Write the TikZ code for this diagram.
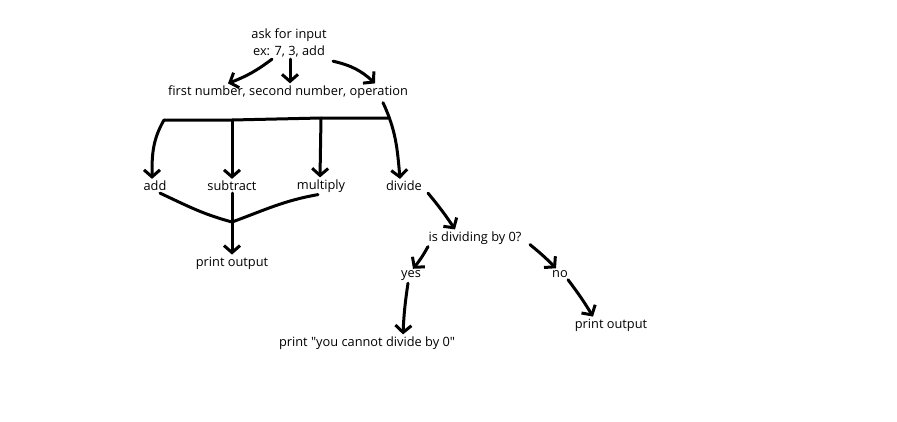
\documentclass[tikz,border=0pt]{standalone}
\usepackage{fontspec}
\newfontfamily\handfont{Open Sans}
\usetikzlibrary{arrows.meta,positioning}

\begin{document}
\begin{tikzpicture}[x=1pt,y=-1pt]
\tikzset{
  stepnode/.style={inner sep=2pt,font=\handfont\fontsize{12.8}{16.5}\selectfont,align=center},
  flow/.style={-{Straight Barb[length=7pt,width=16pt]},line width=3pt,line cap=round,line join=round},
  plain/.style={line width=3pt,line cap=round,line join=round}
}
\fill[white] (0,0) rectangle (897,421);
\useasboundingbox (0,0) rectangle (897,421);
\node[stepnode] (n_ask) at (289,43) {ask for input\\ex: 7, 3, add};
\node[stepnode] (n_first) at (288,92) {first number, second number, operation};
\node[stepnode] (n_add) at (155,186) {add};
\node[stepnode] (n_sub) at (232,186) {subtract};
\node[stepnode] (n_mul) at (321,186) {multiply};
\node[stepnode] (n_div) at (404,186) {divide};
\node[stepnode] (n_out1) at (232,263) {print output};
\node[stepnode] (n_zero) at (475,238) {is dividing by 0?};
\node[stepnode] (n_yes) at (411,276) {yes};
\node[stepnode] (n_no) at (560,274) {no};
\node[stepnode] (n_cannot) at (367,343) {print "you cannot divide by 0"};
\node[stepnode] (n_out2) at (611,325) {print output};
\coordinate (c_busL) at (164,120);
\coordinate (c_busR) at (388,118);
\coordinate (c_busS) at (n_sub |- c_busL);
\coordinate (c_busM) at (n_mul |- c_busR);
\coordinate (c_merge) at (232,222);
\draw[flow] ([xshift=-17pt]n_ask.south) to[bend left=8] ([xshift=-60pt]n_first.north);
\draw[flow] ([xshift=1pt]n_ask.south) -- ([xshift=2pt]n_first.north);
\draw[flow] ([xshift=44pt,yshift=-2pt]n_ask.south) to[bend left=15] ([xshift=87pt]n_first.north);
\draw[plain] (c_busR) -- (c_busM) -- (c_busS) -- (c_busL);
\draw[flow] (c_busL) to[out=240,in=90] ([xshift=-3pt]n_add.north);
\draw[flow] (c_busS) -- (n_sub.north);
\draw[flow] (c_busM) -- ([xshift=-1pt]n_mul.north);
\draw[flow] ([xshift=95pt,yshift=-2pt]n_first.south) to[out=-65,in=95] ([xshift=-4pt]n_div.north);
\draw[plain] ([xshift=5pt]n_add.south) to[out=-25,in=165] (c_merge);
\draw[plain] ([xshift=-3pt]n_mul.south) to[out=190,in=20] (c_merge);
\draw[flow] (n_sub.south) -- (n_out1.north);
\draw[flow] ([xshift=24pt]n_div.south) to[bend left=3] ([xshift=-20pt]n_zero.north);
\draw[flow] ([xshift=-47pt]n_zero.south) to[bend left=5] ([xshift=2pt]n_yes.north);
\draw[flow] ([xshift=55pt,yshift=2pt]n_zero.south) to[bend left=3] ([xshift=-4pt]n_no.north);
\draw[flow] ([xshift=-3pt]n_yes.south) to[bend right=3] ([xshift=36pt]n_cannot.north);
\draw[flow] ([xshift=8pt]n_no.south) to[bend left=3] ([xshift=-18pt]n_out2.north);
\end{tikzpicture}
\end{document}
